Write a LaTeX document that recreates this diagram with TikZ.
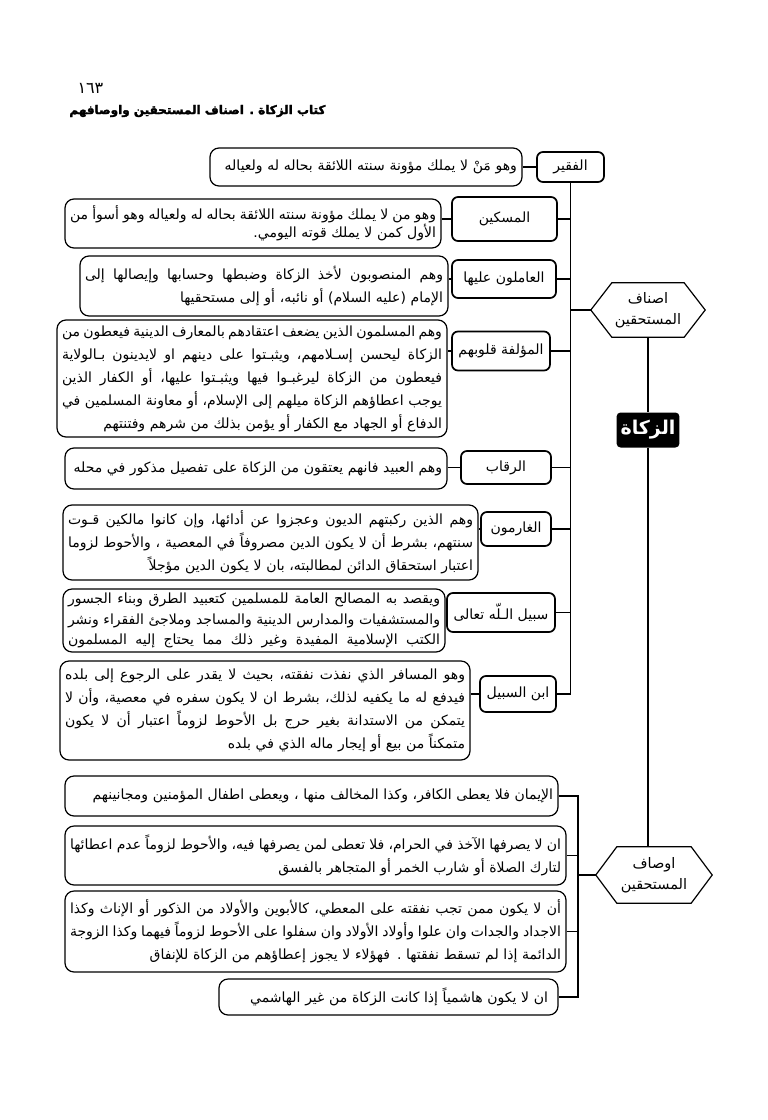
\documentclass[tikz,border=0pt]{standalone}
\usepackage{fontspec}
\setmainfont{DejaVu Sans}
\newfontfamily\arabicfont[Script=Arabic]{DejaVu Sans}
\newfontfamily\heavyfont[Script=Arabic, FakeBold=2.5]{DejaVu Sans Bold}
\usepackage{graphicx}
\TeXXeTstate=1
\newsavebox\mylinebox
\newcommand{\RL}[1]{\beginR #1\endR}
\newcommand{\JL}[1]{\leavevmode\hbox to\hsize{\spaceskip=\fontdimen2\font plus 1fil minus .55\fontdimen2\font\relax\beginR #1\endR}}
\newcommand{\LL}[1]{\leavevmode\sbox\mylinebox{\beginR #1\endR}\ifdim\wd\mylinebox>\hsize\resizebox{\hsize}{!}{\usebox\mylinebox}\else\hbox to\hsize{\hfill\usebox\mylinebox}\fi}
\tikzset{
  desc/.style={draw, line width=1.2pt, rounded corners=9pt, inner xsep=5pt, inner ysep=1pt, align=right,
    font=\arabicfont\fontsize{14}{23}\selectfont},
  lab/.style={draw, line width=1.7pt, rounded corners=6pt, inner sep=0pt,
    font=\arabicfont\fontsize{14}{17}\selectfont},
  hexnode/.style={inner sep=0pt, minimum width=114pt, minimum height=54pt, align=center,
    font=\arabicfont\fontsize{14.5}{21}\selectfont},
  hexline/.style={line width=1.2pt, line join=miter},
  conn/.style={line width=1.8pt},
  thinconn/.style={line width=1.3pt},
  zk/.style={fill=black, rounded corners=4pt, text=white, inner xsep=4pt, inner ysep=0pt,
    minimum width=58pt, minimum height=35pt, font=\arabicfont\bfseries\fontsize{19}{21}\selectfont}
}
\begin{document}
\begin{tikzpicture}[x=1pt,y=-1pt]
\fill[white] (0,0) rectangle (768,1120);
\useasboundingbox (0,0) rectangle (768,1120);

% header
\node[font=\arabicfont\fontsize{16}{18}\selectfont, anchor=west] (pg) at (74,88) {\RL{١٦٣}};
\node[font=\heavyfont\fontsize{12}{14}\selectfont, anchor=east] (title) at (329,111) {\RL{كتاب الزكاة . اصناف المستحقين واوصافهم}};

% ---------- upper group: labels
\node[lab, minimum width=67pt, minimum height=30pt] (l1) at (570.5,167) {\RL{الفقير}};
\node[lab, minimum width=105pt, minimum height=44pt] (l2) at (504.5,219) {\RL{المسكين}};
\node[lab, minimum width=104pt, minimum height=38pt] (l3) at (504,279) {\RL{العاملون عليها}};
\node[lab, minimum width=98pt, minimum height=39pt] (l4) at (501,351) {\RL{المؤلفة قلوبهم}};
\node[lab, minimum width=90pt, minimum height=33pt] (l5) at (506,467.5) {\RL{الرقاب}};
\node[lab, minimum width=70pt, minimum height=34pt] (l6) at (516,529) {\RL{الغارمون}};
\node[lab, minimum width=108pt, minimum height=39pt] (l7) at (501,612.5) {\RL{سبيل الـلّه تعالى}};
\node[lab, minimum width=76pt, minimum height=36pt] (l8) at (518,694) {\RL{ابن السبيل}};

% ---------- upper group: descriptions
\node[desc, text width=302pt, minimum height=38pt] (d1) at (366,167)
  {\LL{وهو مَنْ لا يملك مؤونة سنته اللائقة بحاله له ولعياله}};
\node[desc, text width=366pt, minimum height=49pt, font=\arabicfont\fontsize{14}{18}\selectfont] (d2) at (253,223.5)
  {\JL{وهو من لا يملك مؤونة سنته اللائقة بحاله له ولعياله وهو أسوأ من}\\
   \LL{الأول كمن لا يملك قوته اليومي.}};
\node[desc, text width=358pt, minimum height=60pt] (d3) at (264,286)
  {\JL{وهم المنصوبون لأخذ الزكاة وضبطها وحسابها وإيصالها إلى}\\
   \LL{الإمام (عليه السلام) أو نائبه، أو إلى مستحقيها}};
\node[desc, text width=380pt, minimum height=117pt] (d4) at (252,378.5)
  {\JL{وهم المسلمون الذين يضعف اعتقادهم بالمعارف الدينية فيعطون من}\\
   \JL{الزكاة ليحسن إسـلامهم، ويثبـتوا على دينهم او لايدينون بـالولاية}\\
   \JL{فيعطون من الزكاة ليرغبـوا فيها ويثبـتوا عليها، أو الكفار الذين}\\
   \JL{يوجب اعطاؤهم الزكاة ميلهم إلى الإسلام، أو معاونة المسلمين في}\\
   \LL{الدفاع أو الجهاد مع الكفار أو يؤمن بذلك من شرهم وفتنتهم}};
\node[desc, text width=372pt, minimum height=41pt] (d5) at (256,468.5)
  {\LL{وهم العبيد فانهم يعتقون من الزكاة على تفصيل مذكور في محله}};
\node[desc, text width=405pt, minimum height=75pt] (d6) at (270.5,542.5)
  {\JL{وهم الذين ركبتهم الديون وعجزوا عن أدائها، وإن كانوا مالكين قـوت}\\
   \JL{سنتهم، بشرط أن لا يكون الدين مصروفاً في المعصية ، والأحوط لزوما}\\
   \LL{اعتبار استحقاق الدائن لمطالبته، بان لا يكون الدين مؤجلاً}};
\node[desc, text width=372pt, minimum height=63pt, font=\arabicfont\fontsize{14}{20.5}\selectfont] (d7) at (254,620.5)
  {\JL{ويقصد به المصالح العامة للمسلمين كتعبيد الطرق وبناء الجسور}\\
   \JL{والمستشفيات والمدارس الدينية والمساجد وملاجئ الفقراء ونشر}\\
   \JL{الكتب الإسلامية المفيدة وغير ذلك مما يحتاج إليه المسلمون}};
\node[desc, text width=400pt, minimum height=99pt] (d8) at (265,710.5)
  {\JL{وهو المسافر الذي نفذت نفقته، بحيث لا يقدر على الرجوع إلى بلده}\\
   \JL{فيدفع له ما يكفيه لذلك، بشرط ان لا يكون سفره في معصية، وأن لا}\\
   \JL{يتمكن من الاستدانة بغير حرج بل الأحوط لزوماً اعتبار أن لا يكون}\\
   \LL{متمكناً من بيع أو إيجار ماله الذي في بلده}};

% connectors desc -> label
\foreach \i in {1,...,8} {
  \draw[thinconn] (l\i.west) -- (l\i.west -| d\i.east);
}
% upper trunk
\draw[conn] (l1.south) -- (l1.south |- l8.east) -- (l8.east);
\foreach \i in {2,...,7} {
  \draw[conn] (l\i.east) -- (l\i.east -| l1.south);
}

% ---------- hexagons and center
\node[hexnode] (h1) at (648,310) {\RL{اصناف}\\\RL{المستحقين}};
\draw[hexline] (h1.west) -- ([xshift=21pt]h1.north west) -- ([xshift=-21pt]h1.north east) -- (h1.east)
  -- ([xshift=-21pt]h1.south east) -- ([xshift=21pt]h1.south west) -- cycle;
\draw[conn] (h1.west) -- (h1.west -| l1.south);

\node[zk] (z) at (648,430) {\RL{الزكاة}};

\node[hexnode, minimum width=116pt, minimum height=56pt] (h2) at (654,875) {\RL{اوصاف}\\\RL{المستحقين}};
\draw[hexline] (h2.west) -- ([xshift=21pt]h2.north west) -- ([xshift=-21pt]h2.north east) -- (h2.east)
  -- ([xshift=-21pt]h2.south east) -- ([xshift=21pt]h2.south west) -- cycle;

\draw[thinconn] (h1.south) -- (z.north);
\draw[thinconn] (z.south) -- (z.south |- h2.north);

% ---------- lower group
\node[desc, text width=483pt, minimum height=40pt] (e1) at (311.5,796)
  {\LL{الإيمان فلا يعطى الكافر، وكذا المخالف منها ، ويعطى اطفال المؤمنين ومجانينهم}};
\node[desc, text width=491pt, minimum height=59pt] (e2) at (315.5,855.5)
  {\JL{ان لا يصرفها الآخذ في الحرام، فلا تعطى لمن يصرفها فيه، والأحوط لزوماً عدم اعطائها}\\
   \LL{لتارك الصلاة أو شارب الخمر أو المتجاهر بالفسق}};
\node[desc, text width=491pt, minimum height=81pt] (e3) at (315.5,931.5)
  {\JL{أن لا يكون ممن تجب نفقته على المعطي، كالأبوين والأولاد من الذكور أو الإناث وكذا}\\
   \JL{الاجداد والجدات وان علوا وأولاد الأولاد وان سفلوا على الأحوط لزوماً فيهما وكذا الزوجة}\\
   \LL{الدائمة إذا لم تسقط نفقتها . فهؤلاء لا يجوز إعطاؤهم من الزكاة للإنفاق}};
\node[desc, text width=319pt, minimum height=36pt, inner xsep=10pt] (e4) at (388.5,997)
  {\LL{ان لا يكون هاشمياً إذا كانت الزكاة من غير الهاشمي}};

\coordinate (lt) at (578,796);
\draw[conn] (e1.east) -- (lt) -- (lt |- e4.east) -- (e4.east);
\draw[conn] (e2.east) -- (e2.east -| lt);
\draw[conn] (e3.east) -- (e3.east -| lt);
\draw[conn] (h2.west) -- (h2.west -| lt);
\end{tikzpicture}
\end{document}
